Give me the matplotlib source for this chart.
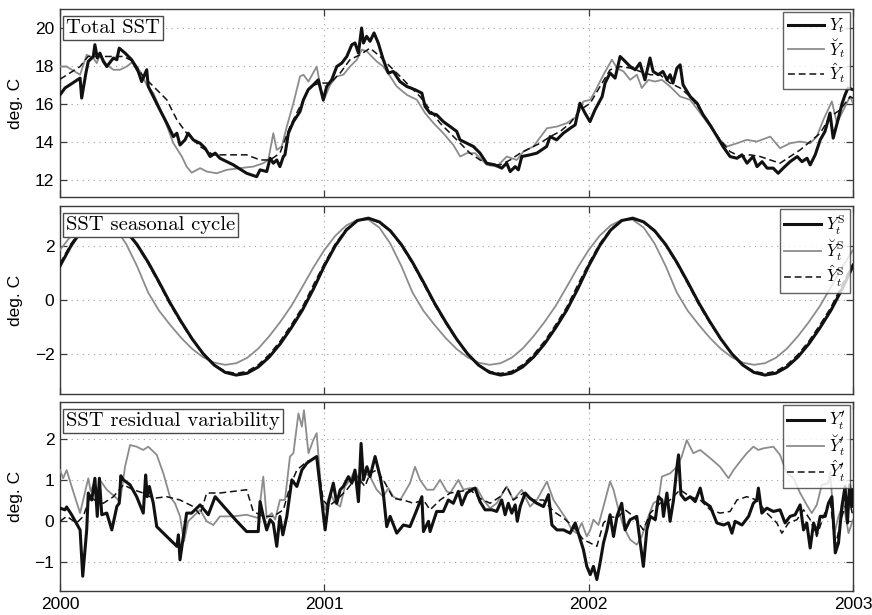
import numpy as np
import matplotlib
matplotlib.use("Agg")
import matplotlib.pyplot as plt

plt.rcParams['font.family'] = ['Liberation Sans', 'DejaVu Sans']
plt.rcParams['mathtext.fontset'] = 'cm'

YEAR0 = 2000

# ---------------- Panel 1: total SST (years since 2000, deg C) ----------------
tot_obs_t = [0.000, 0.019, 0.076, 0.082, 0.098, 0.107, 0.126, 0.132, 0.141, 0.151, 0.164, 0.177, 0.202, 0.215, 0.224,
             0.246, 0.271, 0.296, 0.309, 0.328, 0.334, 0.353, 0.378, 0.404, 0.429, 0.442, 0.454, 0.473, 0.485, 0.504,
             0.530, 0.549, 0.568, 0.587, 0.605, 0.656, 0.706, 0.744, 0.757, 0.782, 0.795, 0.807, 0.820, 0.832, 0.845,
             0.851, 0.864, 0.883, 0.908, 0.921, 0.939, 0.958, 0.977, 0.996, 1.009, 1.028, 1.047, 1.066, 1.085, 1.104,
             1.116, 1.129, 1.141, 1.148, 1.160, 1.173, 1.188, 1.204, 1.223, 1.242, 1.261, 1.286, 1.312, 1.343, 1.369,
             1.381, 1.400, 1.425, 1.450, 1.476, 1.501, 1.513, 1.539, 1.564, 1.589, 1.614, 1.646, 1.671, 1.690, 1.703,
             1.722, 1.734, 1.747, 1.778, 1.804, 1.841, 1.854, 1.879, 1.904, 1.930, 1.949, 1.967, 1.986, 2.005, 2.024,
             2.051, 2.062, 2.081, 2.100, 2.119, 2.138, 2.157, 2.176, 2.194, 2.213, 2.232, 2.244, 2.263, 2.281, 2.297,
             2.308, 2.319, 2.334, 2.346, 2.357, 2.384, 2.410, 2.433, 2.459, 2.486, 2.508, 2.535, 2.561, 2.580, 2.599,
             2.622, 2.637, 2.656, 2.675, 2.698, 2.717, 2.736, 2.762, 2.789, 2.807, 2.826, 2.838, 2.857, 2.876, 2.894,
             2.913, 2.925, 2.940, 2.959, 2.970, 2.981, 3.000]
tot_obs_v = [16.48, 16.84, 17.36, 16.31, 17.63, 18.24, 18.50, 19.12, 18.42, 18.68, 18.24, 17.97, 18.42, 18.33, 18.94,
             18.68, 18.33, 17.71, 17.18, 17.80, 16.92, 16.39, 15.69, 14.99, 14.28, 14.46, 13.84, 14.11, 14.46, 14.11,
             13.93, 13.67, 13.23, 13.41, 13.14, 12.79, 12.35, 12.17, 12.53, 12.44, 13.14, 12.88, 13.05, 12.70, 13.23,
             13.32, 14.46, 15.07, 15.60, 16.22, 16.75, 17.00, 17.27, 16.22, 16.92, 17.27, 17.97, 18.15, 18.50, 19.12,
             19.21, 18.68, 20.00, 19.21, 19.56, 19.30, 19.74, 19.21, 18.33, 17.63, 17.71, 17.18, 16.92, 16.75, 16.57,
             15.87, 15.52, 15.43, 15.07, 14.81, 14.55, 14.11, 13.93, 13.76, 13.41, 12.88, 12.79, 12.62, 12.88, 12.44,
             12.70, 12.53, 13.23, 13.32, 13.41, 13.76, 14.28, 14.11, 14.46, 14.72, 14.90, 16.04, 15.52, 15.07, 15.69,
             16.39, 17.10, 17.63, 17.36, 18.50, 18.24, 17.97, 17.80, 18.15, 17.27, 18.42, 17.71, 17.54, 17.71, 17.27,
             17.54, 17.10, 17.89, 18.06, 17.01, 16.39, 16.04, 15.43, 14.90, 14.28, 13.76, 13.23, 13.14, 13.32, 12.88,
             13.23, 12.70, 12.96, 12.62, 12.62, 12.35, 12.62, 12.96, 13.23, 12.96, 13.14, 12.79, 13.32, 14.11, 14.55,
             15.52, 14.20, 14.99, 16.04, 16.48, 16.84, 16.75]

tot_brv_t = [0.000, 0.025, 0.076, 0.101, 0.126, 0.139, 0.151, 0.177, 0.202, 0.227, 0.252, 0.277, 0.303, 0.328, 0.353,
             0.391, 0.429, 0.461, 0.479, 0.498, 0.530, 0.555, 0.593, 0.631, 0.681, 0.731, 0.769, 0.788, 0.807, 0.820,
             0.839, 0.858, 0.883, 0.908, 0.921, 0.940, 0.971, 0.996, 1.022, 1.047, 1.072, 1.097, 1.123, 1.142, 1.161,
             1.173, 1.198, 1.223, 1.249, 1.274, 1.312, 1.350, 1.381, 1.413, 1.450, 1.488, 1.514, 1.539, 1.570, 1.596,
             1.615, 1.652, 1.690, 1.728, 1.753, 1.791, 1.842, 1.880, 1.917, 1.955, 1.980, 2.006, 2.024, 2.056, 2.088,
             2.107, 2.132, 2.157, 2.182, 2.201, 2.226, 2.251, 2.277, 2.308, 2.346, 2.384, 2.422, 2.460, 2.497, 2.523,
             2.561, 2.598, 2.636, 2.687, 2.724, 2.762, 2.800, 2.838, 2.863, 2.888, 2.920, 2.939, 2.964, 2.989, 3.000]
tot_brv_v = [17.97, 17.97, 17.54, 18.59, 18.42, 18.15, 18.59, 18.06, 17.80, 17.80, 17.97, 18.24, 17.71, 17.01, 16.57,
             15.34, 13.93, 13.23, 12.70, 12.38, 12.62, 12.44, 12.35, 12.53, 12.62, 12.70, 12.88, 13.05, 14.46, 13.58,
             13.76, 14.81, 16.04, 17.45, 17.54, 17.18, 17.97, 16.13, 17.01, 17.45, 17.54, 17.97, 18.33, 18.86, 18.77,
             18.59, 18.24, 17.97, 17.45, 16.92, 16.48, 16.22, 15.52, 14.99, 14.46, 13.84, 13.23, 13.41, 13.41, 13.05,
             12.79, 12.70, 13.23, 13.05, 13.49, 13.76, 14.72, 14.81, 14.99, 15.34, 16.13, 16.22, 16.66, 17.54, 18.33,
             17.89, 17.71, 17.27, 17.54, 16.84, 17.27, 17.18, 17.27, 16.92, 16.39, 16.22, 15.52, 14.81, 14.11, 13.76,
             13.93, 14.11, 14.02, 14.28, 13.67, 13.93, 14.02, 13.93, 14.28, 15.17, 16.13, 14.99, 15.69, 16.39, 16.04]

tot_hat_t = [0.000, 0.076, 0.106, 0.139, 0.189, 0.240, 0.277, 0.315, 0.366, 0.404, 0.442, 0.479, 0.530, 0.580, 0.656,
             0.706, 0.757, 0.795, 0.832, 0.870, 0.908, 0.946, 0.984, 1.022, 1.060, 1.097, 1.135, 1.173, 1.211, 1.249,
             1.287, 1.324, 1.362, 1.400, 1.438, 1.476, 1.514, 1.551, 1.589, 1.627, 1.665, 1.703, 1.741, 1.778, 1.816,
             1.854, 1.892, 1.930, 1.968, 2.006, 2.043, 2.081, 2.119, 2.157, 2.195, 2.233, 2.270, 2.308, 2.346, 2.384,
             2.422, 2.460, 2.497, 2.535, 2.573, 2.611, 2.649, 2.687, 2.724, 2.762, 2.800, 2.838, 2.876, 2.914, 2.952,
             2.989, 3.000]
tot_hat_v = [17.30, 17.97, 18.50, 18.50, 18.50, 18.50, 18.24, 17.45, 16.75, 16.22, 15.17, 14.46, 13.76, 13.32, 13.32,
             13.32, 13.05, 13.05, 13.41, 14.81, 15.87, 16.92, 17.10, 17.10, 17.63, 18.33, 18.59, 18.94, 18.50, 17.97,
             17.45, 16.92, 16.39, 15.69, 14.99, 14.46, 13.93, 13.41, 13.05, 12.79, 12.79, 13.05, 13.41, 13.67, 13.93,
             14.28, 14.55, 14.99, 15.69, 16.04, 16.92, 17.80, 17.97, 17.89, 17.71, 17.54, 17.54, 17.10, 16.84, 16.39,
             15.69, 14.90, 14.11, 13.49, 13.23, 13.32, 13.23, 13.05, 12.88, 13.23, 13.58, 14.02, 14.46, 15.34, 15.69,
             16.39, 16.30]

# ---------------- Panel 2: seasonal cycle (half-month steps) ----------------
seas_t = [k / 24 for k in range(73)]
seas_obs = [1.26, 2.01, 2.59, 2.94, 3.03, 2.89, 2.56, 2.05, 1.40, 0.66, -0.11, -0.80, -1.44, -1.99, -2.41, -2.68,
            -2.78, -2.71, -2.48, -2.11, -1.62, -1.03, -0.38, 0.40,
            1.26, 2.01, 2.59, 2.94, 3.03, 2.89, 2.56, 2.05, 1.40, 0.66, -0.11, -0.80, -1.44, -1.99, -2.41, -2.68,
            -2.78, -2.71, -2.48, -2.11, -1.62, -1.03, -0.38, 0.40,
            1.26, 2.01, 2.59, 2.94, 3.03, 2.89, 2.56, 2.05, 1.40, 0.66, -0.11, -0.80, -1.44, -1.99, -2.41, -2.68,
            -2.78, -2.71, -2.48, -2.11, -1.62, -1.03, -0.38, 0.40, 1.26]
seas_brv = [1.85, 2.38, 2.76, 2.97, 2.97, 2.68, 2.08, 1.25, 0.28, -0.40, -0.92, -1.40, -1.81, -2.12, -2.32, -2.40,
            -2.34, -2.14, -1.80, -1.34, -0.81, -0.22, 0.48, 1.20,
            1.85, 2.38, 2.76, 2.97, 2.97, 2.68, 2.08, 1.25, 0.28, -0.40, -0.92, -1.40, -1.81, -2.12, -2.32, -2.40,
            -2.34, -2.14, -1.80, -1.34, -0.81, -0.22, 0.48, 1.20,
            1.85, 2.38, 2.76, 2.97, 2.97, 2.68, 2.08, 1.25, 0.28, -0.40, -0.92, -1.40, -1.81, -2.12, -2.32, -2.40,
            -2.34, -2.14, -1.80, -1.34, -0.81, -0.22, 0.48, 1.20, 1.85]
seas_hat = [1.35, 2.08, 2.63, 2.95, 3.00, 2.87, 2.53, 2.01, 1.35, 0.60, -0.17, -0.85, -1.47, -2.00, -2.40, -2.64,
            -2.72, -2.64, -2.40, -2.02, -1.52, -0.92, -0.27, 0.55,
            1.35, 2.08, 2.63, 2.95, 3.00, 2.87, 2.53, 2.01, 1.35, 0.60, -0.17, -0.85, -1.47, -2.00, -2.40, -2.64,
            -2.72, -2.64, -2.40, -2.02, -1.52, -0.92, -0.27, 0.55,
            1.35, 2.08, 2.63, 2.95, 3.00, 2.87, 2.53, 2.01, 1.35, 0.60, -0.17, -0.85, -1.47, -2.00, -2.40, -2.64,
            -2.72, -2.64, -2.40, -2.02, -1.52, -0.92, -0.27, 0.55, 1.35]

# ---------------- Panel 3: residual variability ----------------
res_obs_t = [0.000, 0.019, 0.025, 0.044, 0.069, 0.076, 0.086, 0.101, 0.107, 0.120, 0.132, 0.141, 0.149, 0.158, 0.177,
             0.196, 0.215, 0.224, 0.230, 0.240, 0.265, 0.290, 0.315, 0.324, 0.330, 0.338, 0.353, 0.366, 0.404, 0.442,
             0.448, 0.454, 0.479, 0.498, 0.530, 0.561, 0.587, 0.631, 0.669, 0.706, 0.750, 0.757, 0.769, 0.782, 0.795,
             0.807, 0.820, 0.832, 0.843, 0.858, 0.877, 0.896, 0.915, 0.934, 0.952, 0.971, 0.990, 1.003, 1.015, 1.034,
             1.047, 1.060, 1.072, 1.091, 1.104, 1.116, 1.129, 1.139, 1.148, 1.161, 1.173, 1.192, 1.211, 1.223, 1.236,
             1.249, 1.274, 1.299, 1.324, 1.350, 1.369, 1.375, 1.394, 1.400, 1.425, 1.450, 1.469, 1.488, 1.507, 1.520,
             1.539, 1.558, 1.570, 1.589, 1.608, 1.634, 1.652, 1.671, 1.684, 1.696, 1.709, 1.722, 1.730, 1.741, 1.760,
             1.778, 1.804, 1.829, 1.848, 1.861, 1.880, 1.905, 1.930, 1.949, 1.961, 1.980, 1.993, 2.006, 2.018, 2.031,
             2.043, 2.056, 2.069, 2.081, 2.094, 2.107, 2.125, 2.138, 2.157, 2.182, 2.207, 2.220, 2.233, 2.252, 2.264,
             2.277, 2.283, 2.296, 2.308, 2.321, 2.334, 2.340, 2.349, 2.365, 2.384, 2.403, 2.422, 2.434, 2.460, 2.485,
             2.510, 2.529, 2.542, 2.554, 2.580, 2.605, 2.623, 2.636, 2.642, 2.655, 2.674, 2.699, 2.724, 2.743, 2.762,
             2.781, 2.800, 2.813, 2.825, 2.838, 2.851, 2.863, 2.876, 2.895, 2.907, 2.920, 2.933, 2.945, 2.958, 2.970,
             2.979, 2.987, 2.996, 3.000]
res_obs_v = [0.32, 0.28, 0.35, 0.16, -0.13, -0.21, -1.34, -0.21, 0.69, 0.52, 1.05, 0.12, 1.05, 0.16, 0.20,
             -0.21, 0.36, 0.44, 1.11, 1.01, 0.89, 0.60, 0.20, 1.13, 0.60, 0.85, 0.44, -0.13, -0.37, -0.61,
             -0.33, -0.94, 0.20, 0.20, 0.40, 0.16, 0.60, 0.28, 0.00, -0.25, -0.25, 0.48, 0.12, -0.21, 0.04,
             -0.05, -0.61, 0.12, -0.33, 0.12, 1.01, 0.85, 1.25, 1.42, 1.50, 1.58, 0.52, -0.21, 0.44, 0.93,
             0.44, 0.77, 0.85, 1.09, 0.93, 1.25, 0.48, 1.90, 1.01, 1.33, 1.09, 1.58, 1.09, 0.69, -0.13,
             0.12, -0.29, -0.09, -0.13, 0.28, 0.60, -0.25, 0.00, -0.25, 0.24, 0.24, 0.52, 0.44, 0.73, 0.40,
             0.69, 0.77, 0.81, 0.48, 0.28, 0.28, 0.24, 0.52, 0.16, 0.44, 0.20, 0.40, 0.00, 0.36, 0.69,
             0.56, 0.44, 0.36, 0.65, -0.09, -0.21, -0.21, -0.29, -0.04, -0.29, -0.69, -1.10, -1.30, -1.10, -1.42,
             -1.02, -0.53, -0.21, 0.16, -0.37, 0.12, 0.44, -0.21, 0.04, 0.12, -1.10, -0.21, 0.12, 0.04, 0.60,
             0.52, 0.12, 0.69, 0.00, 0.52, 1.33, 1.62, 0.65, 0.52, 0.60, 0.48, 0.81, 0.48, 0.36, -0.04,
             -0.09, -0.04, -0.29, 0.00, -0.09, 0.12, 0.44, 0.52, 0.81, 0.20, 0.32, 0.24, 0.28, -0.04, 0.12,
             0.16, 0.40, -0.21, -0.04, -0.65, -0.04, -0.29, 0.12, 0.12, 0.44, 0.60, -0.77, -0.53, 0.36, 0.85,
             -0.04, 0.89, 0.36, 0.77]

res_brv_t = [0.000, 0.012, 0.025, 0.044, 0.076, 0.107, 0.116, 0.126, 0.139, 0.151, 0.177, 0.208, 0.227, 0.246, 0.265,
             0.290, 0.315, 0.334, 0.366, 0.391, 0.416, 0.435, 0.454, 0.469, 0.485, 0.504, 0.530, 0.555, 0.580, 0.605,
             0.656, 0.706, 0.750, 0.769, 0.782, 0.801, 0.814, 0.832, 0.851, 0.870, 0.883, 0.902, 0.915, 0.923, 0.940,
             0.958, 0.971, 0.990, 1.003, 1.022, 1.041, 1.060, 1.078, 1.097, 1.116, 1.135, 1.154, 1.173, 1.198, 1.223,
             1.242, 1.261, 1.287, 1.324, 1.343, 1.362, 1.388, 1.413, 1.438, 1.463, 1.476, 1.507, 1.526, 1.551, 1.577,
             1.602, 1.627, 1.652, 1.690, 1.715, 1.747, 1.778, 1.804, 1.842, 1.867, 1.892, 1.917, 1.936, 1.955, 1.974,
             1.993, 2.006, 2.018, 2.037, 2.056, 2.081, 2.094, 2.113, 2.132, 2.157, 2.182, 2.201, 2.226, 2.245, 2.264,
             2.277, 2.308, 2.334, 2.352, 2.371, 2.396, 2.422, 2.460, 2.497, 2.529, 2.548, 2.573, 2.598, 2.623, 2.642,
             2.661, 2.699, 2.724, 2.750, 2.775, 2.800, 2.825, 2.844, 2.863, 2.882, 2.907, 2.914, 2.930, 2.945, 2.964,
             2.983, 3.000]
res_brv_v = [1.25, 1.05, 1.25, 0.85, 0.20, 1.05, 0.73, 0.89, 0.60, 1.01, 0.77, 0.60, 0.48, 1.33, 1.86,
             1.82, 1.74, 1.82, 1.62, 1.17, 0.60, 0.44, 0.12, -0.49, 0.00, 0.12, 0.28, 0.00, -0.09, 0.12,
             0.12, 0.16, 0.08, 1.09, 0.08, 0.20, 0.04, 0.52, 0.52, 1.58, 1.66, 2.63, 2.31, 2.71, 1.66,
             1.98, 2.15, 0.60, 0.28, 0.69, 0.44, 0.36, 0.85, 1.01, 1.25, 0.93, 1.17, 1.09, 0.77, 0.60,
             0.81, 0.60, 0.52, 0.93, 1.33, 1.01, 0.77, 0.77, 1.01, 0.73, 0.69, 1.01, 0.77, 0.81, 0.81,
             0.52, 0.32, 0.44, 0.85, 0.52, 0.77, 0.36, 0.52, 0.97, 0.52, 0.28, 0.04, -0.21, -0.29, -0.04,
             -0.37, -0.21, 0.04, -0.09, 0.36, 0.97, 0.77, 0.28, -0.13, -0.45, -0.57, -0.37, 0.12, 0.44, 0.52,
             1.09, 1.17, 1.33, 1.58, 1.98, 1.66, 1.74, 1.54, 1.33, 1.05, 1.25, 1.46, 1.66, 1.82, 1.74,
             1.78, 1.82, 1.62, 1.17, 1.05, 0.69, 0.40, 0.20, 0.40, 0.89, 0.93, 1.21, -0.29, 0.12, 0.44,
             -0.29, 0.04]

res_hat_t = [0.000, 0.025, 0.063, 0.088, 0.114, 0.139, 0.164, 0.202, 0.240, 0.277, 0.315, 0.353, 0.404, 0.454, 0.504,
             0.530, 0.555, 0.605, 0.656, 0.706, 0.731, 0.769, 0.807, 0.845, 0.870, 0.896, 0.934, 0.971, 0.996, 1.015,
             1.047, 1.085, 1.123, 1.154, 1.173, 1.198, 1.230, 1.261, 1.299, 1.337, 1.375, 1.400, 1.438, 1.476, 1.514,
             1.551, 1.589, 1.627, 1.665, 1.690, 1.715, 1.753, 1.791, 1.829, 1.867, 1.905, 1.942, 1.980, 2.006, 2.031,
             2.056, 2.081, 2.107, 2.138, 2.170, 2.207, 2.233, 2.270, 2.308, 2.346, 2.384, 2.422, 2.460, 2.497, 2.535,
             2.561, 2.598, 2.636, 2.674, 2.712, 2.731, 2.756, 2.788, 2.813, 2.838, 2.863, 2.888, 2.914, 2.933, 2.958,
             2.983, 3.000]
res_hat_v = [0.00, 0.12, -0.04, 0.12, 0.60, 0.48, 0.44, 0.60, 0.89, 0.77, 0.69, 0.56, 0.60, 0.52, 0.36,
             0.16, 0.69, 0.69, 0.73, 0.77, 0.24, 0.12, 0.12, 0.28, 0.85, 1.25, 1.46, 1.54, 0.52, 0.36,
             0.52, 0.77, 1.09, 0.85, 1.17, 1.25, 0.93, 0.56, 0.52, 0.44, 0.52, 0.28, 0.52, 0.69, 0.73,
             0.77, 0.56, 0.44, 0.60, 0.85, 0.52, 0.69, 0.52, 0.52, 0.24, 0.08, -0.13, -0.45, -0.53, -0.61,
             -0.04, 0.12, 0.08, 0.28, 0.12, -0.21, 0.20, 0.44, 0.52, 0.77, 0.60, 0.52, 0.28, 0.20, 0.24,
             0.52, 0.60, 0.52, 0.20, -0.04, -0.29, -0.04, 0.04, 0.28, 0.04, -0.37, 0.12, 0.52, -0.61, 0.12,
             0.60, 0.12]

panel_titles = ["Total SST", "SST seasonal cycle", "SST residual variability"]
legend_labels = [
    [r"$Y_t$", r"$\breve{Y}_t$", r"$\hat{Y}_t$"],
    [r"$Y_t^{\mathrm{S}}$", r"$\breve{Y}_t^{\mathrm{S}}$", r"$\hat{Y}_t^{\mathrm{S}}$"],
    [r"$Y_t^{\prime}$", r"$\breve{Y}_t^{\prime}$", r"$\hat{Y}_t^{\prime}$"],
]
ylims = [(11.1, 21.0), (-3.48, 3.48), (-1.7, 2.91)]
yticks = [[12, 14, 16, 18, 20], [-2, 0, 2], [-1, 0, 1, 2]]
xticks = [2000, 2001, 2002, 2003]

series = [
    ((tot_obs_t, tot_obs_v), (tot_brv_t, tot_brv_v), (tot_hat_t, tot_hat_v)),
    ((seas_t, seas_obs), (seas_t, seas_brv), (seas_t, seas_hat)),
    ((res_obs_t, res_obs_v), (res_brv_t, res_brv_v), (res_hat_t, res_hat_v)),
]

W, H = 872, 615
fig = plt.figure(figsize=(W / 100, H / 100), dpi=100)
boxes = [(9, 197), (206, 394), (402, 591)]
left_px, right_px = 60, 853
spine_c = '#3a3a3a'

for i, ((top, bot), ser) in enumerate(zip(boxes, series)):
    ax = fig.add_axes([left_px / W, 1 - bot / H, (right_px - left_px) / W, (bot - top) / H])
    (ot, ov), (bt, bv), (ht, hv) = ser
    ax.plot(np.array(ot) + YEAR0, ov, color='#111111', lw=2.2, label=legend_labels[i][0], zorder=4)
    ax.plot(np.array(bt) + YEAR0, bv, color='#8c8c8c', lw=1.3, label=legend_labels[i][1], zorder=3)
    ax.plot(np.array(ht) + YEAR0, hv, color='#111111', lw=1.1, ls=(0, (4.5, 2.5)), label=legend_labels[i][2], zorder=5)
    ax.set_xlim(2000, 2003)
    ax.set_ylim(*ylims[i])
    ax.set_xticks(xticks)
    ax.set_yticks(yticks[i])
    ax.grid(True, ls=(0, (1, 4)), color='#a0a0a0', lw=0.8)
    ax.tick_params(direction='in', length=5, width=0.9, color=spine_c, top=True, right=True,
                   labelsize=12.5, pad=4)
    if i < 2:
        ax.tick_params(labelbottom=False)
    else:
        ax.set_xticklabels([str(x) for x in xticks])
        ax.tick_params(axis='x', pad=4)
    for s in ax.spines.values():
        s.set_color(spine_c)
        s.set_linewidth(1.0)
    ax.set_ylabel("deg. C", fontsize=12.5, labelpad=6)
    ax.yaxis.set_label_coords(-0.047, 0.5)
    ax.text(0.0075, 0.948, panel_titles[i], transform=ax.transAxes, ha='left', va='top',
            family='cmr10', fontsize=14.8, zorder=10,
            bbox=dict(boxstyle='square,pad=0.15', fc='white', ec='#4a4a4a', lw=1.0))
    leg = ax.legend(loc='upper right', fontsize=12, frameon=True, fancybox=False,
                    handlelength=2.2, handletextpad=0.3, labelspacing=0.05,
                    borderpad=0.25, borderaxespad=0.2)
    leg.get_frame().set_edgecolor('#3a3a3a')
    leg.get_frame().set_linewidth(1.0)
    leg.set_zorder(11)

fig.savefig("out.png", dpi=100)
